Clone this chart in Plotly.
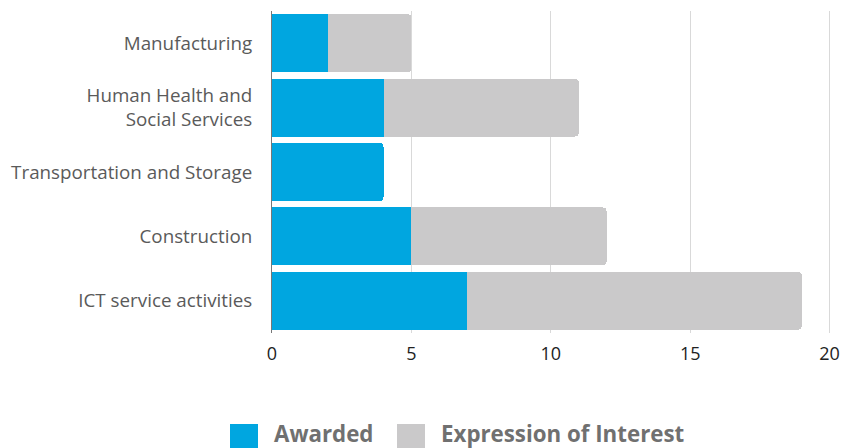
import plotly.graph_objects as go

categories = ["ICT service activities", "Construction", "Transportation and Storage",
              "Human Health and<br>Social Services", "Manufacturing"]
awarded = [7, 5, 4, 4, 2]
expression = [12, 7, 0, 7, 3]
x_ticks = [0, 5, 10, 15, 20]

BLUE = "#00a6e0"
GREY = "#cac9ca"
FONT = "Open Sans"

fig = go.Figure()
fig.add_trace(go.Bar(y=categories, x=awarded, orientation="h", name="Awarded",
                     marker=dict(color=BLUE, line=dict(width=0))))
fig.add_trace(go.Bar(y=categories, x=expression, orientation="h", name="Expression of Interest",
                     marker=dict(color=GREY, line=dict(width=0))))

W, H = 845, 448
L, T = 272, 11
R = W - 831
B = H - 333
pw, ph = W - L - R, H - T - B

def px(x):
    return (x - L) / pw

def py(y):
    return (H - B - y) / ph

# custom legend
legend_items = [("Awarded", BLUE, 230, 272), ("Expression of Interest", GREY, 397, 439)]
for name, col, sx, tx in legend_items:
    fig.add_shape(type="rect", xref="paper", yref="paper",
                  x0=px(sx), x1=px(sx + 28), y0=py(424), y1=py(450),
                  fillcolor=col, line=dict(width=0))
    fig.add_annotation(xref="paper", yref="paper", x=px(tx), y=py(433),
                       xanchor="left", yanchor="middle", showarrow=False,
                       text="<b>%s</b>" % name,
                       font=dict(family=FONT, size=22.3, color="#707070"))

fig.update_layout(
    width=W, height=H,
    barmode="stack", bargap=0.1, barcornerradius=4,
    showlegend=False,
    plot_bgcolor="white", paper_bgcolor="white",
    margin=dict(l=L, r=R, t=T, b=B, pad=0),
    font=dict(family=FONT),
    xaxis=dict(range=[0, 20.05], tickvals=x_ticks, showgrid=True, gridcolor="#d9d9d9",
               gridwidth=1, zeroline=False, showline=False, ticks="",
               ticklabeloverflow="allow", automargin=False,
               tickfont=dict(size=18, color="#222222"), ticklabelstandoff=8),
    yaxis=dict(showgrid=False, showline=True, linecolor="#777777", linewidth=1,
               ticks="", automargin=False,
               tickfont=dict(size=18.8, color="#5a5a5a"), ticklabelstandoff=15),
)

fig.write_html("out.html", config={"displayModeBar": False},
               post_script="document.body.style.margin='0';document.body.style.overflow='hidden';")
